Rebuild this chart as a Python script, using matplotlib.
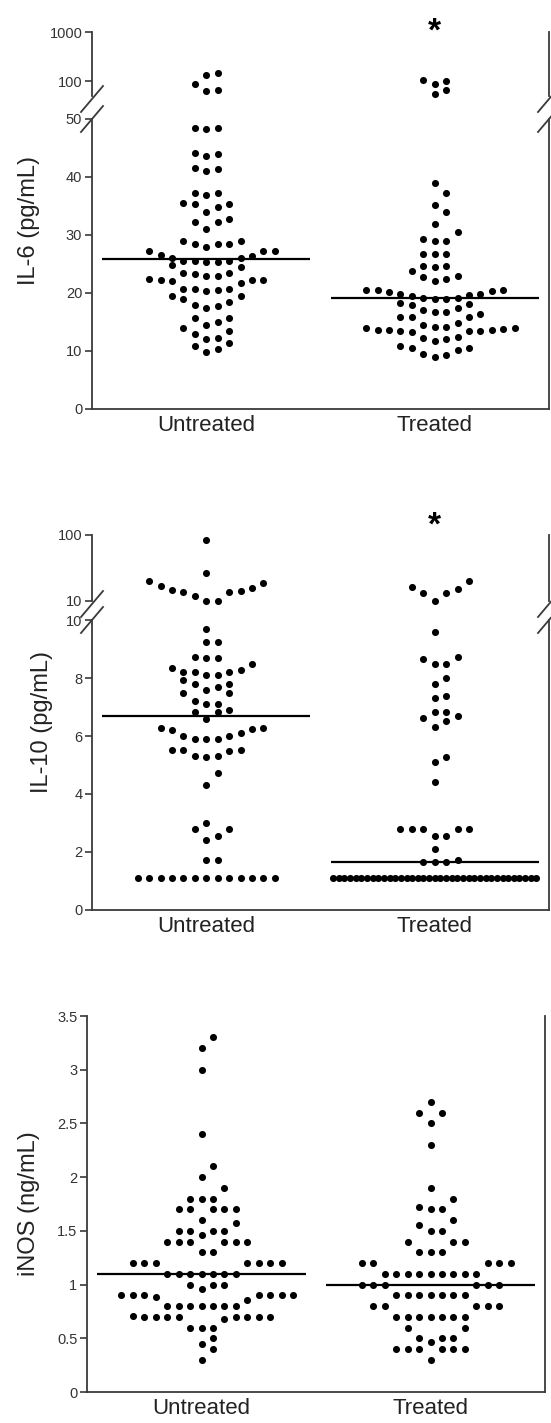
"""
Three dot plots (IL-6, IL-10, iNOS) for untreated vs treated groups,
with median lines and broken y axes for the two cytokines.
Saves out.png.
"""

import matplotlib
matplotlib.use("Agg")
import matplotlib.pyplot as plt
import numpy as np
from matplotlib.lines import Line2D
from matplotlib.ticker import NullLocator
from matplotlib.transforms import blended_transform_factory

plt.rcParams["font.family"] = ["Liberation Sans", "DejaVu Sans"]

W, H = 551, 1423
INK = "#3a3a3a"

GROUPS = ["Untreated", "Treated"]

# IL-6 (pg/mL): points above the break (log part) and below it (linear part)
IL6_HIGH_UNTREATED = [86.6, 63, 131, 146, 65]
IL6_HIGH_TREATED = [108, 103, 88, 65, 54]
IL6_UNTREATED = [
    48.4, 48.3, 48.4, 44.1, 43.7, 44.0, 41.5, 41.0, 41.4, 37.3, 36.9, 37.2,
    35.5, 35.3, 34.0, 34.9, 35.3, 32.8, 32.3, 31.0, 32.3,
    28.9, 28.5, 27.9, 28.5, 28.5, 28.9,
    27.3, 27.3, 26.3, 26.0, 25.6, 25.4, 25.4, 25.6, 25.6, 26.0, 26.6, 27.3,
    24.4, 24.9, 23.4, 23.0, 23.0, 23.3, 23.4,
    22.2, 22.2, 21.7, 22.1, 22.2, 22.4, 20.7, 20.6, 20.3, 20.7, 20.7,
    19.5, 19.5, 18.9, 18.5, 17.8, 18.0, 17.4,
    15.7, 15.0, 15.7, 14.4, 13.9, 13.4, 13.0, 12.3, 12.1,
    11.3, 10.8, 10.4, 9.8,
]
IL6_TREATED = [
    38.9, 37.2, 35.1, 33.9, 31.9, 30.6, 29.3, 29.0, 29.0,
    26.7, 26.7, 26.7, 24.6, 24.6, 24.4, 23.8, 23.0, 22.4, 22.1, 22.8,
    20.5, 20.3, 19.8, 19.7, 19.5, 19.9, 20.2, 20.5, 20.6, 19.1, 18.9, 19.0, 19.1,
    18.1, 17.5, 18.0, 18.3, 15.9, 15.9, 15.9, 16.7, 16.7, 17.1, 16.3,
    14.4, 14.2, 14.2, 14.8,
    13.9, 13.7, 13.6, 13.5, 13.4, 13.3, 13.4, 13.6, 13.8, 13.9,
    12.4, 12.0, 11.8, 12.2, 10.8, 10.5, 10.2, 10.6, 9.5, 9.0, 9.3,
]
IL6_MEDIAN = [25.8, 19.2]

# IL-10 (pg/mL)
IL10_HIGH_UNTREATED = [12.1, 9.9, 18.7, 15.8, 14.2, 13.5, 13.5, 14.6, 16.9, 20.1, 10.0, 26.3, 83]
IL10_HIGH_TREATED = [16.5, 13.3, 13.3, 15.3, 20.1, 10.0]
IL10_UNTREATED = [
    9.70, 9.25, 9.25, 8.69, 8.69, 8.73,
    8.33, 8.19, 8.19, 8.10, 8.10, 8.19, 8.29, 8.48,
    7.94, 7.79, 7.60, 7.70, 7.79, 7.49, 7.20, 7.11, 7.11, 7.49,
    6.90, 6.82, 6.58, 6.82,
    6.28, 6.22, 6.00, 5.91, 5.88, 5.91, 6.00, 6.10, 6.24, 6.28,
    5.51, 5.51, 5.31, 5.28, 5.31, 5.47, 5.51,
    4.71, 4.31, 3.00, 2.81, 2.81, 2.56, 2.40, 1.71, 1.71,
] + [1.1] * 13
IL10_TREATED = [
    9.57, 8.73, 8.47, 8.47, 8.67, 7.99, 7.79, 7.38, 7.31,
    6.69, 6.51, 6.82, 6.82, 6.63, 6.30, 5.09, 5.28, 4.42,
    2.81, 2.81, 2.81, 2.81, 2.81, 2.56, 2.56, 2.12, 1.67, 1.67, 1.67, 1.71,
] + [1.1] * 37
IL10_MEDIAN = [6.7, 1.67]

# iNOS (ng/mL)
INOS_UNTREATED = (
    [3.3, 3.2, 3.0, 2.4, 2.1, 2.0, 1.9] + [1.8] * 3 + [1.7] * 5 + [1.6, 1.57]
    + [1.5] * 4 + [1.46] + [1.4] * 6 + [1.3] * 2 + [1.2] * 7 + [1.1] * 7
    + [1.0] * 3 + [0.96] + [0.9] * 7 + [0.88, 0.86] + [0.8] * 7 + [0.7] * 8
    + [0.71, 0.68] + [0.6] * 3 + [0.5, 0.45, 0.4, 0.3]
)
INOS_TREATED = (
    [2.7, 2.6, 2.6, 2.5, 2.3, 1.9, 1.8, 1.7, 1.7, 1.72, 1.6, 1.55, 1.5, 1.5]
    + [1.4] * 3 + [1.3] * 3 + [1.2] * 5 + [1.1] * 9 + [1.0] * 6 + [0.9] * 7
    + [0.8] * 5 + [0.7] * 7 + [0.6] * 2 + [0.5] * 3 + [0.47] + [0.4] * 6 + [0.3]
)
INOS_MEDIAN = [1.1, 1.0]


def swarm(values, bin_size, log=False, step=0.05, max_half=0.445):
    """Prism-like layout: values are grouped into rows from the bottom up,
    the lowest of each row sits in the middle, the rest alternate outward."""
    v = np.asarray(values, float)
    key = np.log10(v) if log else v
    order = np.argsort(key, kind="stable")
    offsets = np.zeros(len(v))
    i = 0
    while i < len(order):
        start = key[order[i]]
        j = i
        while j < len(order) and key[order[j]] < start + bin_size:
            j += 1
        idx = order[i:j]
        slots = [0]
        k = 1
        while len(slots) < len(idx):
            slots.append(k)
            if len(slots) < len(idx):
                slots.append(-k)
            k += 1
        slots = np.array(slots, float)
        span = slots.max() - slots.min()
        d = step if span * step <= 2 * max_half else 2 * max_half / span
        offsets[idx] = slots * d
        i = j
    return offsets


def px_axes(fig, left, top, right, bottom):
    return fig.add_axes([left / W, 1 - bottom / H, (right - left) / W, (bottom - top) / H])


def style(ax, spines):
    for name, sp in ax.spines.items():
        sp.set_visible(name in spines)
        sp.set_color(INK)
        sp.set_linewidth(1.3)
    ax.tick_params(axis="y", direction="out", length=5, width=1.2, color=INK,
                   labelsize=10.5, labelcolor="#333333", pad=2)
    ax.set_xlim(0.5, 2.5)
    ax.patch.set_alpha(0)


def dots(ax, groups, bin_size, log=False):
    for i, vals in enumerate(groups):
        x = i + 1 + swarm(vals, bin_size, log)
        ax.scatter(x, vals, s=26, color="black", linewidths=0, clip_on=False, zorder=3)


def medians(ax, meds):
    for i, m in enumerate(meds):
        ax.hlines(m, i + 1 - 0.455, i + 1 + 0.455, color="black", lw=1.6, zorder=4)


def group_labels(ax):
    ax.set_xticks([1, 2])
    ax.set_xticklabels(GROUPS, fontsize=16, color="#222222")
    ax.tick_params(axis="x", length=0, pad=4)


def slash(fig, x, y):
    fig.add_artist(Line2D([(x - 11) / W, (x + 11) / W], [1 - (y + 13) / H, 1 - (y - 13) / H],
                          color=INK, lw=1.3))


def star(ax, drop):
    # significance mark over the treated column; drop = points below the axis top
    tr = blended_transform_factory(ax.transData, ax.transAxes)
    ax.annotate("*", xy=(2, 1), xycoords=tr, xytext=(0, -drop), textcoords="offset points",
                ha="center", va="bottom", fontsize=24, fontweight="bold", annotation_clip=False)


def broken_panel(fig, rows, high, low, hi_lim, lo_lim, hi_ticks, lo_ticks,
                 meds, b_hi, b_lo, ylabel, ylabel_x, star_drop):
    top, hi_bottom, lo_top, bottom = rows
    left, right = 92, 549

    ax_hi = px_axes(fig, left, top, right, hi_bottom)
    style(ax_hi, ("left", "right"))
    ax_hi.set_yscale("log")
    ax_hi.set_ylim(*hi_lim)
    ax_hi.set_yticks(hi_ticks)
    ax_hi.set_yticklabels([str(t) for t in hi_ticks])
    ax_hi.yaxis.set_minor_locator(NullLocator())
    ax_hi.set_xticks([])
    dots(ax_hi, high, b_hi, log=True)
    star(ax_hi, star_drop)

    ax_lo = px_axes(fig, left, lo_top, right, bottom)
    style(ax_lo, ("left", "right", "bottom"))
    ax_lo.set_ylim(*lo_lim)
    ax_lo.set_yticks(lo_ticks)
    ax_lo.set_yticklabels([str(t) for t in lo_ticks])
    dots(ax_lo, low, b_lo)
    medians(ax_lo, meds)
    group_labels(ax_lo)

    for x in (left, right):
        slash(fig, x, hi_bottom + 3)
        slash(fig, x, lo_top)

    fig.text(ylabel_x / W, 1 - (top + bottom) / 2 / H, ylabel, rotation=90,
             ha="center", va="center", fontsize=17, color="#222222")


fig = plt.figure(figsize=(W / 100, H / 100), dpi=100)

broken_panel(fig, (32, 96, 119, 409),
             [IL6_HIGH_UNTREATED, IL6_HIGH_TREATED], [IL6_UNTREATED, IL6_TREATED],
             (50, 1000), (0, 50), [100, 1000], [0, 10, 20, 30, 40, 50],
             IL6_MEDIAN, 0.2, 2.2, "IL-6 (pg/mL)", 29, 11)

broken_panel(fig, (535, 601, 620, 910),
             [IL10_HIGH_UNTREATED, IL10_HIGH_TREATED], [IL10_UNTREATED, IL10_TREATED],
             (10, 100), (0, 10), [10, 100], [0, 2, 4, 6, 8, 10],
             IL10_MEDIAN, 0.35, 0.43, "IL-10 (pg/mL)", 42, 5)

ax3 = px_axes(fig, 87, 1016, 545, 1392)
style(ax3, ("left", "right", "bottom"))
ax3.set_ylim(0, 3.5)
inos_ticks = [0, 0.5, 1, 1.5, 2, 2.5, 3, 3.5]
ax3.set_yticks(inos_ticks)
ax3.set_yticklabels([f"{t:g}" for t in inos_ticks])
dots(ax3, [INOS_UNTREATED, INOS_TREATED], 0.135)
medians(ax3, INOS_MEDIAN)
group_labels(ax3)
fig.text(29 / W, 1 - 1204 / H, "iNOS (ng/mL)", rotation=90,
         ha="center", va="center", fontsize=17, color="#222222")

fig.savefig("out.png", dpi=100)
